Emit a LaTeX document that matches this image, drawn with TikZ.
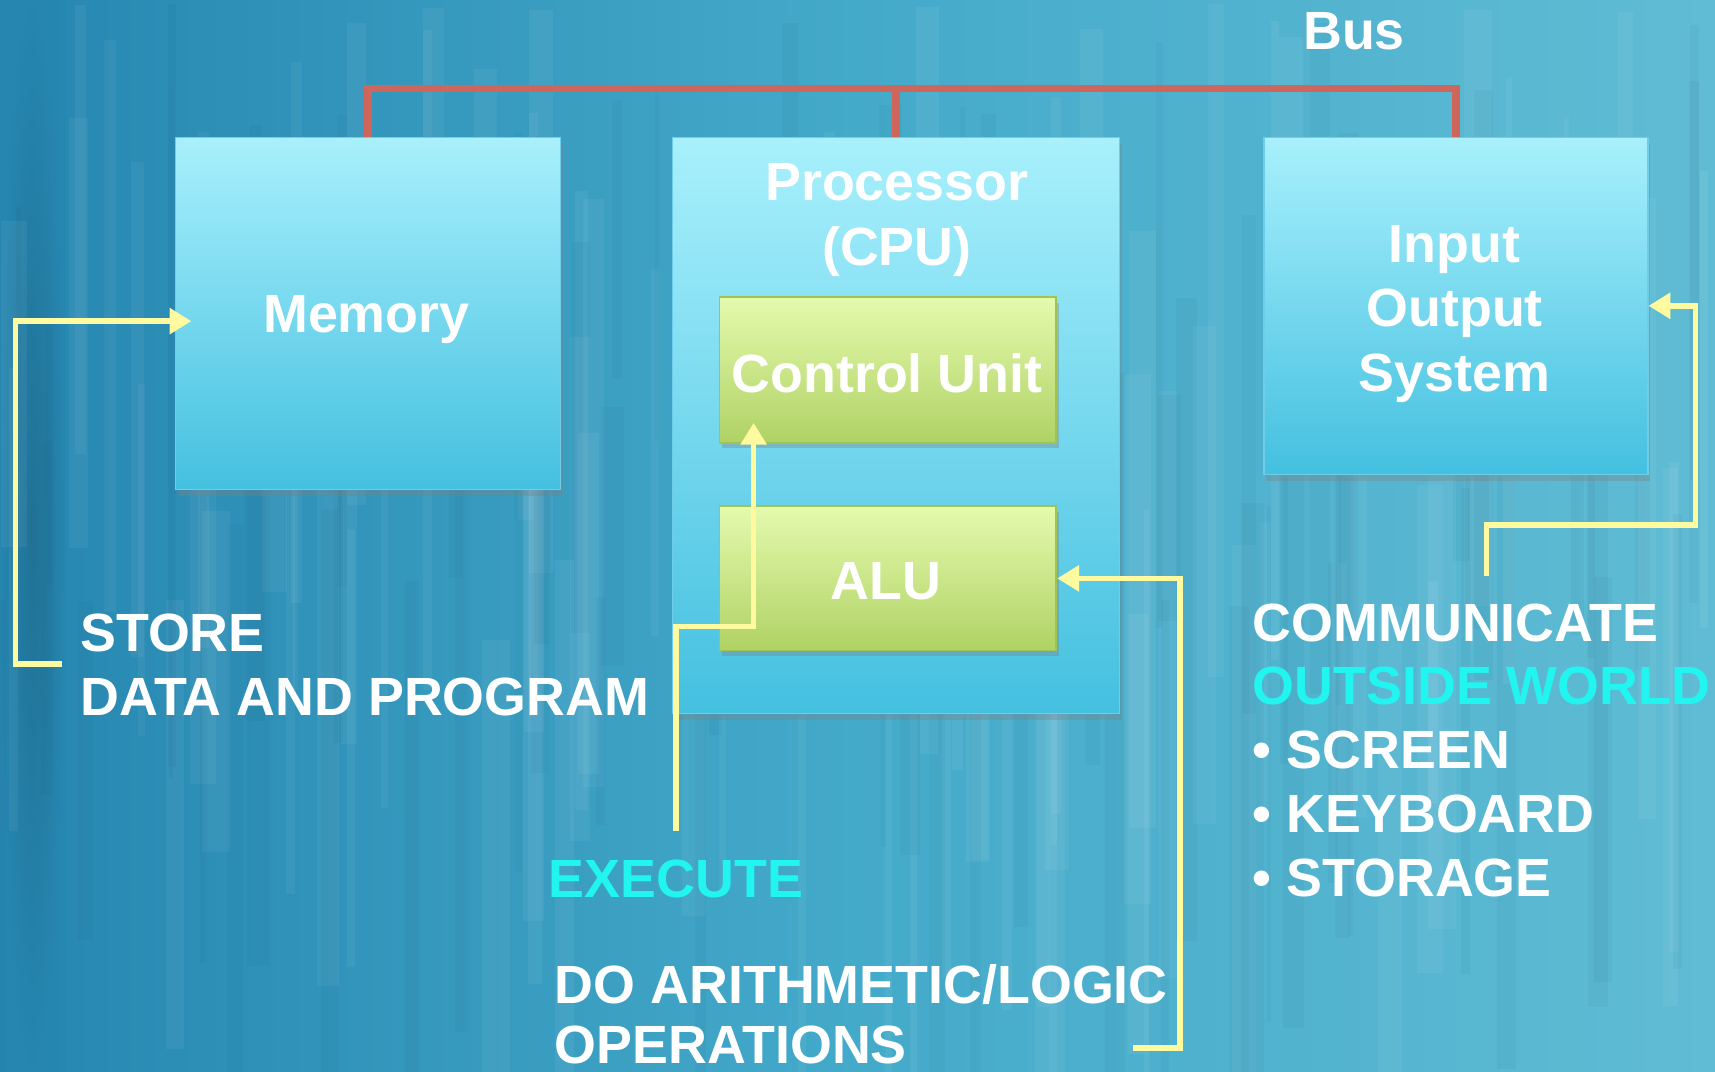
\documentclass[tikz,border=0pt]{standalone}
\usepackage{fontspec}
\setmainfont{Liberation Sans}
\usetikzlibrary{arrows.meta,shadows,calc}
\definecolor{bgL}{RGB}{38,134,176}
\definecolor{bgM}{RGB}{68,170,202}
\definecolor{bgR}{RGB}{96,188,212}
\definecolor{boxTop}{RGB}{168,240,252}
\definecolor{boxBot}{RGB}{68,192,224}
\definecolor{boxLine}{RGB}{110,205,232}
\definecolor{grTop}{RGB}{228,250,174}
\definecolor{grBot}{RGB}{176,210,100}
\definecolor{grLine}{RGB}{160,196,84}
\definecolor{busC}{RGB}{206,102,92}
\definecolor{yelC}{RGB}{255,250,160}
\definecolor{cyanT}{RGB}{34,244,240}
\begin{document}
\begin{tikzpicture}[x=0.5pt,y=-0.5pt,
  txt/.style={text=white,font=\fontsize{24.6}{29.5}\selectfont\bfseries,inner sep=0pt},
  bluebox/.style={draw=boxLine,line width=0.6pt,top color=boxTop,bottom color=boxBot,
    drop shadow={shadow xshift=1pt,shadow yshift=-3pt,opacity=0.35},anchor=north west,inner sep=0pt},
  greenbox/.style={draw=grLine,line width=0.8pt,top color=grTop,bottom color=grBot,
    drop shadow={shadow xshift=1pt,shadow yshift=-2.5pt,opacity=0.35},anchor=north west,inner sep=0pt,
    minimum width=154pt},
  bus/.style={draw=busC,line width=3.4pt,line join=miter},
  yarrow/.style={draw=yelC,line width=2.5pt,line join=miter,-{Triangle[length=10pt,width=11.5pt]}}]
\useasboundingbox (0,0) rectangle (1568,980);
% background
\shade[left color=bgL,right color=bgR,middle color=bgM] (0,0) rectangle (1568,980);
\shade[inner color=bgL!70!black,outer color=bgL,opacity=0.5] (0,0) rectangle (60,980);
\pgfmathsetseed{11}
\foreach \i in {1,...,90}{
  \pgfmathsetmacro{\xx}{rnd*1568}
  \pgfmathsetmacro{\ww}{4+rnd*22}
  \pgfmathsetmacro{\yy}{rnd*600}
  \pgfmathsetmacro{\hh}{200+rnd*500}
  \fill[white,opacity=0.05] (\xx,\yy) rectangle ++(\ww,\hh);
}
\foreach \i in {1,...,70}{
  \pgfmathsetmacro{\xx}{rnd*1568}
  \pgfmathsetmacro{\ww}{4+rnd*18}
  \pgfmathsetmacro{\yy}{rnd*600}
  \pgfmathsetmacro{\hh}{200+rnd*500}
  \fill[bgL!60!black,opacity=0.05] (\xx,\yy) rectangle ++(\ww,\hh);
}
% boxes
\node[bluebox,minimum width=176pt,minimum height=161pt] (mem) at (160,125) {};
\node[bluebox,minimum width=204.5pt,minimum height=263.5pt] (proc) at (614,125) {};
\node[bluebox,minimum width=175.5pt,minimum height=154pt] (io) at (1155,125) {};
\node[greenbox,minimum height=66.5pt] (cu) at (657,271) {};
\node[greenbox,minimum height=66pt] (alu) at (657,462) {};
% box labels
\node[txt] (memlbl) at (335,292) {Memory};
\node[txt,align=center] (proclbl) at (820,201) {Processor\\(CPU)};
\node[txt,align=center] (iolbl) at (1330,287) {Input\\Output\\System};
\node[txt] (culbl) at (811,341) {Control Unit};
\node[txt] (alulbl) at (810,531) {ALU};
% bus
\coordinate (busL) at (336,81);
\node[txt] (buslbl) at (1238,29) {Bus};
\draw[bus] (mem.north) -- (mem.north |- busL) -| (io.north);
\draw[bus] (proc.north) -- (proc.north |- busL);
% annotations
\node[txt,anchor=west,align=left] (store) at (73,608) {STORE\\DATA AND PROGRAM};
\node[txt,text=cyanT] (exec) at (618,804) {EXECUTE};
\node[txt,anchor=west,align=left,font=\fontsize{24.6}{27.5}\selectfont\bfseries] (doar) at (507,927) {DO ARITHMETIC/LOGIC\\OPERATIONS};
\node[txt,anchor=west,align=left,font=\fontsize{24.6}{29.2}\selectfont\bfseries] (comm) at (1145,686)
  {COMMUNICATE\\\textcolor{cyanT}{OUTSIDE WORLD}\\• SCREEN\\• KEYBOARD\\• STORAGE};
% arrows
\coordinate (s1) at (57,607);
\draw[yarrow] (s1) -- ++(-43,0) |- ($(mem.west)+(15,7)$);
\coordinate (e1) at (618,760);
\draw[yarrow] (e1) -- (618,573) -| ($(cu.south west)+(32,-19)$);
\coordinate (a1) at (1036,958);
\draw[yarrow] (a1) -- (1079,958) |- (alu.east);
\coordinate (c1) at (1359,527);
\draw[yarrow] (c1) -- (1359,480) -- (1550,480) |- (io.east);
\end{tikzpicture}
\end{document}
